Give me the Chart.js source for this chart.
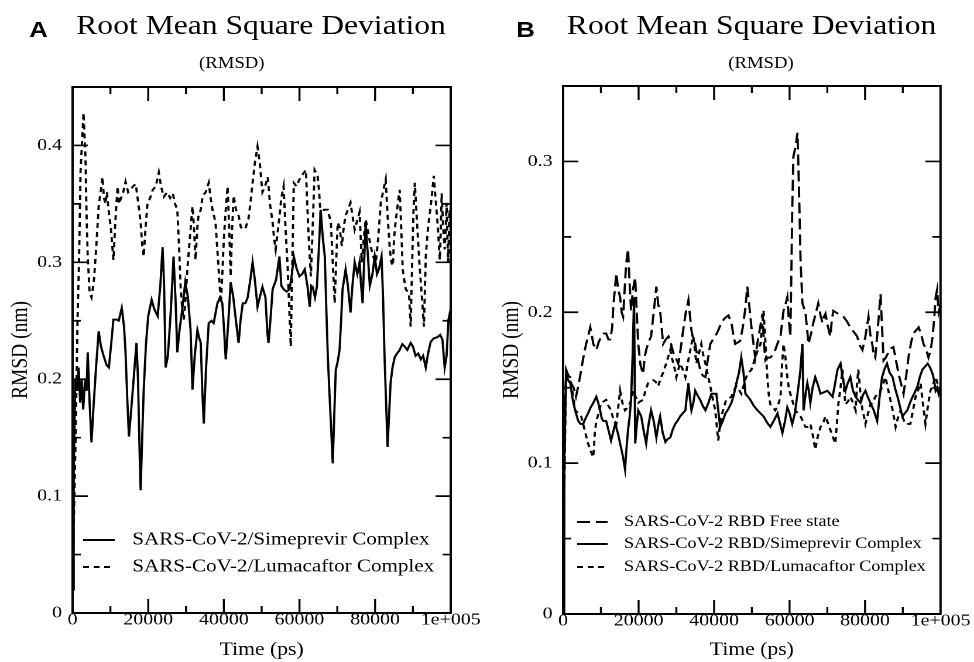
<!DOCTYPE html>
<html>
<head>
<meta charset="utf-8">
<title>RMSD</title>
<script src="https://cdn.jsdelivr.net/npm/chart.js@4.4.1/dist/chart.umd.min.js"></script>
<style>
  html, body { margin: 0; padding: 0; background: #fff; overflow: hidden; }
  /* the original figure is stretched sideways, so the page is laid out narrow and scaled */
  #page { position: absolute; left: 0; top: 0; width: 832px; height: 662px; transform: scaleX(1.1707); transform-origin: 0 0; }
  .letter { position: absolute; font: bold 22px 'Liberation Sans', Arial, sans-serif; line-height: 22px; color: #000; }
  .title, .sub { position: absolute; text-align: center; white-space: nowrap; color: #000;
    font-family: 'Liberation Serif', 'Times New Roman', serif; }
  .title { width: 400px; font-size: 27px; line-height: 27px; top: 12px; }
  .sub { width: 200px; font-size: 16px; line-height: 16px; top: 55px; }
  canvas { position: absolute; top: 0; }
</style>
</head>
<body>
<div id="page">
  <div class="letter" style="left:25px; top:19px">A</div>
  <div class="letter" style="left:441px; top:19px">B</div>
  <div class="title" style="left:23px">Root Mean Square Deviation</div>
  <div class="title" style="left:442px">Root Mean Square Deviation</div>
  <div class="sub" style="left:98px">(RMSD)</div>
  <div class="sub" style="left:550px">(RMSD)</div>
  <canvas id="chartA" width="416" height="662" style="left:0; width:416px; height:662px"></canvas>
  <canvas id="chartB" width="416" height="662" style="left:416px; width:416px; height:662px"></canvas>
</div>
<script>
// ---- axis ticks ----
const xTickValues = [0, 20000, 40000, 60000, 80000, 100000];
const xTickLabels = ['0', '20000', '40000', '60000', '80000', '1e+005'];
const xMinorTicks = [10000, 30000, 50000, 70000, 90000];

const yTickValuesA = [0, 0.1, 0.2, 0.3, 0.4];
const yTickLabelsA = ['0', '0.1', '0.2', '0.3', '0.4'];
const yMinorTicksA = [0.05, 0.15, 0.25, 0.35];

const yTickValuesB = [0, 0.1, 0.2, 0.3];
const yTickLabelsB = ['0', '0.1', '0.2', '0.3'];
const yMinorTicksB = [0.05, 0.15, 0.25];

// ---- panel A: time (ps) / RMSD (nm) ----
const seriesLabelsA = ['SARS-CoV-2/Simeprevir Complex', 'SARS-CoV-2/Lumacaftor Complex'];

const timeSimA = [
  0, 300, 700, 1200, 1600, 2000, 2400, 2800, 3300, 3700,
  4000, 4500, 5000, 5600, 6200, 6900, 7500, 8200, 9000, 9600,
  10200, 10800, 11600, 12200, 13000, 13600, 14000, 14500, 14900, 15400,
  15900, 16500, 16900, 17300, 17700, 18000, 18400, 18800, 19400, 20000,
  20900, 21600, 22500, 23200, 23800, 24200, 24600, 25200, 26000, 26700,
  27200, 27700, 28200, 29000, 29800, 30500, 31200, 31700, 32300, 33000,
  33500, 33900, 34300, 34700, 35300, 36000, 36700, 37300, 38300, 39000,
  39600, 40100, 40500, 41200, 41800, 42500, 43200, 43900, 44400, 45000,
  45700, 46300, 47000, 47600, 48200, 48900, 49500, 50200, 51000, 51500,
  51800, 52300, 52900, 53800, 54700, 55200, 55800, 56600, 57400, 58000,
  58500, 59200, 60000, 60700, 61400, 62100, 62700, 63100, 63500, 64100,
  64600, 65100, 65600, 66200, 66700, 67100, 67500, 67900, 68300, 68800,
  69200, 69600, 70100, 70600, 71000, 71400, 72200, 72800, 73500, 74000,
  74600, 75300, 75900, 76300, 76700, 77100, 77500, 78000, 78600, 79300,
  79900, 80500, 81000, 81700, 82100, 82500, 82900, 83300, 83700, 84100,
  84600, 85200, 85800, 86500, 87200, 87800, 88500, 89400, 90000, 90700,
  91400, 92100, 92700, 93400, 94000, 94700, 95500, 96500, 97200, 97800,
  98400, 98900, 99400, 100000
];
const rmsdSimA = [
  0.02, 0.12, 0.20, 0.19, 0.21, 0.18, 0.20, 0.174, 0.20, 0.19,
  0.223, 0.18, 0.146, 0.18, 0.21, 0.241, 0.228, 0.22, 0.212, 0.21,
  0.23, 0.251, 0.251, 0.25, 0.261, 0.245, 0.223, 0.18, 0.151, 0.17,
  0.19, 0.215, 0.231, 0.20, 0.14, 0.105, 0.15, 0.19, 0.23, 0.254,
  0.268, 0.26, 0.254, 0.28, 0.313, 0.28, 0.21, 0.22, 0.26, 0.305,
  0.27, 0.223, 0.24, 0.26, 0.283, 0.27, 0.242, 0.191, 0.22, 0.242,
  0.235, 0.231, 0.19, 0.162, 0.21, 0.248, 0.25, 0.248, 0.265, 0.27,
  0.265, 0.24, 0.217, 0.25, 0.283, 0.27, 0.25, 0.231, 0.25, 0.265,
  0.265, 0.27, 0.285, 0.30, 0.285, 0.262, 0.27, 0.279, 0.27, 0.24,
  0.231, 0.25, 0.277, 0.285, 0.305, 0.28, 0.277, 0.275, 0.277, 0.29,
  0.305, 0.295, 0.288, 0.29, 0.294, 0.28, 0.262, 0.28, 0.279, 0.27,
  0.279, 0.31, 0.345, 0.32, 0.305, 0.26, 0.219, 0.19, 0.163, 0.128,
  0.17, 0.208, 0.215, 0.225, 0.25, 0.277, 0.294, 0.28, 0.257, 0.28,
  0.30, 0.29, 0.30, 0.28, 0.265, 0.30, 0.334, 0.31, 0.28, 0.29,
  0.305, 0.29, 0.294, 0.305, 0.27, 0.219, 0.18, 0.142, 0.17, 0.197,
  0.21, 0.219, 0.222, 0.225, 0.23, 0.228, 0.225, 0.231, 0.228, 0.22,
  0.222, 0.217, 0.22, 0.21, 0.222, 0.232, 0.235, 0.236, 0.238, 0.234,
  0.21, 0.22, 0.251, 0.26
];

const timeLumA = [
  0, 800, 1300, 1700, 2100, 2600, 2900, 3400, 3700, 4000,
  4500, 5000, 5600, 6200, 6900, 7400, 7900, 8300, 8700, 9100,
  9500, 10100, 10800, 11400, 11900, 12300, 12700, 13400, 14000, 14700,
  15300, 16000, 16700, 17400, 18000, 18400, 18800, 19300, 19800, 20500,
  21200, 22000, 22800, 23400, 24100, 25000, 25800, 26500, 27100, 27700,
  28200, 28600, 29000, 29400, 29900, 30400, 31000, 31700, 32100, 32500,
  33000, 33300, 33900, 34400, 35200, 36000, 36500, 37000, 37800, 38500,
  39200, 39600, 40000, 40500, 41000, 41400, 41800, 42200, 42600, 43200,
  43900, 44500, 45200, 45800, 46500, 47000, 47600, 48200, 48900, 49500,
  50200, 50900, 51600, 52200, 52900, 53300, 53700, 54200, 54700, 55200,
  55800, 56300, 56900, 57300, 57700, 58100, 58500, 59200, 60000, 60800,
  61700, 62300, 63000, 63500, 64000, 64800, 65200, 65600, 66500, 67500,
  68300, 68800, 69300, 69700, 70100, 70600, 71200, 71700, 72200, 72800,
  73500, 74000, 74600, 75200, 75900, 76200, 76500, 77000, 77500, 78200,
  78800, 79500, 80200, 80800, 81500, 82200, 82800, 83300, 83900, 84300,
  84700, 85000, 85400, 86000, 86500, 86900, 87300, 87700, 88100, 88600,
  89000, 89400, 89800, 90100, 90500, 90900, 91300, 91700, 92100, 92500,
  92900, 93200, 93400, 94000, 94700, 95100, 95500, 96000, 96600, 97100,
  97400, 97600, 98000, 98400, 98700, 98900, 99300, 99700, 100000
];
const rmsdLumA = [
  0.03, 0.15, 0.25, 0.30, 0.377, 0.41, 0.428, 0.39, 0.34, 0.305,
  0.274, 0.27, 0.283, 0.31, 0.348, 0.36, 0.373, 0.355, 0.35, 0.36,
  0.345, 0.33, 0.302, 0.34, 0.365, 0.35, 0.354, 0.36, 0.369, 0.36,
  0.362, 0.365, 0.367, 0.35, 0.334, 0.315, 0.305, 0.33, 0.35, 0.355,
  0.362, 0.365, 0.377, 0.365, 0.356, 0.36, 0.355, 0.359, 0.35, 0.345,
  0.31, 0.277, 0.26, 0.251, 0.27, 0.296, 0.32, 0.348, 0.33, 0.302,
  0.33, 0.34, 0.345, 0.357, 0.36, 0.368, 0.355, 0.345, 0.334, 0.30,
  0.265, 0.29, 0.32, 0.345, 0.365, 0.33, 0.288, 0.33, 0.357, 0.345,
  0.34, 0.33, 0.328, 0.33, 0.337, 0.35, 0.368, 0.385, 0.399, 0.385,
  0.36, 0.365, 0.373, 0.35, 0.334, 0.32, 0.311, 0.325, 0.339, 0.355,
  0.365, 0.33, 0.294, 0.26, 0.228, 0.30, 0.368, 0.365, 0.371, 0.375,
  0.379, 0.33, 0.288, 0.33, 0.379, 0.374, 0.36, 0.34, 0.345, 0.345,
  0.334, 0.30, 0.265, 0.30, 0.334, 0.33, 0.314, 0.33, 0.34, 0.345,
  0.351, 0.34, 0.328, 0.335, 0.343, 0.32, 0.30, 0.32, 0.337, 0.325,
  0.314, 0.305, 0.30, 0.32, 0.351, 0.362, 0.371, 0.34, 0.311, 0.30,
  0.297, 0.32, 0.334, 0.35, 0.362, 0.33, 0.294, 0.285, 0.277, 0.275,
  0.271, 0.245, 0.30, 0.34, 0.368, 0.345, 0.322, 0.30, 0.282, 0.265,
  0.245, 0.28, 0.305, 0.33, 0.348, 0.36, 0.374, 0.354, 0.33, 0.302,
  0.33, 0.359, 0.33, 0.311, 0.33, 0.351, 0.30, 0.345, 0.33
];

// ---- panel B ----
const seriesLabelsB = ['SARS-CoV-2 RBD Free state', 'SARS-CoV-2 RBD/Simeprevir Complex', 'SARS-CoV-2 RBD/Lumacaftor Complex'];

const timeFreeB = [
  0, 300, 500, 800, 1400, 2100, 2800, 3400, 4100, 4800,
  5500, 6100, 6700, 7200, 7600, 8000, 8800, 9400, 10100, 10800,
  11400, 12000, 12500, 13000, 13300, 13700, 14100, 14600, 15100, 15500,
  15900, 16300, 16700, 17200, 17600, 18000, 18500, 19100, 19500, 19900,
  20500, 21200, 21600, 22000, 22600, 23300, 24000, 24700, 25200, 25700,
  26100, 26500, 27200, 27900, 28500, 29200, 29800, 30500, 31100, 31800,
  32500, 33200, 33600, 34000, 34500, 35000, 35600, 36300, 37000, 37700,
  38300, 39000, 39700, 40300, 41100, 41900, 42800, 43800, 44600, 45100,
  45600, 46300, 46900, 47600, 48300, 48800, 49300, 49900, 50400, 50900,
  51500, 52200, 52800, 53200, 53600, 54300, 54900, 55600, 56200, 56900,
  57600, 58000, 58400, 58900, 59400, 59800, 60200, 60500, 60700, 61000,
  61600, 62100, 62300, 62600, 62900, 63400, 63800, 64200, 64600, 65000,
  65700, 66300, 67000, 67600, 68200, 68700, 69100, 69500, 70200, 70800,
  71200, 71600, 72200, 72900, 73600, 74300, 75200, 76100, 77000, 77900,
  78600, 79300, 80100, 80900, 81400, 81900, 82300, 82700, 83400, 84100,
  84500, 84900, 85500, 86100, 86800, 87500, 88200, 88900, 89600, 90200,
  90900, 91500, 92200, 92800, 93500, 94200, 94900, 95500, 96200, 96800,
  97400, 97900, 98300, 98700, 99100, 99500, 100000
];
const rmsdFreeB = [
  0.0, 0.08, 0.13, 0.162, 0.158, 0.153, 0.15, 0.144, 0.152, 0.162,
  0.172, 0.179, 0.185, 0.19, 0.185, 0.179, 0.175, 0.18, 0.184, 0.186,
  0.186, 0.182, 0.182, 0.19, 0.204, 0.215, 0.226, 0.215, 0.21, 0.20,
  0.197, 0.215, 0.232, 0.242, 0.22, 0.201, 0.215, 0.223, 0.20, 0.179,
  0.165, 0.159, 0.17, 0.175, 0.18, 0.184, 0.20, 0.217, 0.205, 0.201,
  0.19, 0.179, 0.182, 0.184, 0.18, 0.173, 0.17, 0.166, 0.175, 0.188,
  0.20, 0.208, 0.198, 0.188, 0.182, 0.179, 0.17, 0.162, 0.158, 0.157,
  0.168, 0.179, 0.182, 0.184, 0.188, 0.193, 0.196, 0.198, 0.193, 0.185,
  0.179, 0.18, 0.181, 0.19, 0.203, 0.217, 0.205, 0.19, 0.18, 0.17,
  0.18, 0.19, 0.199, 0.18, 0.168, 0.17, 0.17, 0.172, 0.175, 0.18,
  0.184, 0.193, 0.201, 0.205, 0.21, 0.195, 0.184, 0.23, 0.268, 0.303,
  0.31, 0.319, 0.30, 0.27, 0.235, 0.206, 0.203, 0.20, 0.19, 0.179,
  0.186, 0.193, 0.20, 0.206, 0.198, 0.193, 0.197, 0.199, 0.19, 0.184,
  0.195, 0.201, 0.20, 0.199, 0.198, 0.197, 0.194, 0.19, 0.187, 0.184,
  0.178, 0.175, 0.184, 0.197, 0.185, 0.179, 0.172, 0.17, 0.19, 0.212,
  0.19, 0.168, 0.17, 0.173, 0.176, 0.177, 0.168, 0.159, 0.152, 0.146,
  0.158, 0.17, 0.18, 0.186, 0.188, 0.19, 0.185, 0.179, 0.175, 0.17,
  0.175, 0.184, 0.195, 0.21, 0.215, 0.20, 0.205
];

const timeSimB = [
  0, 300, 800, 1300, 1900, 2300, 2700, 3300, 4000, 4600,
  5300, 6000, 6600, 7300, 8000, 8800, 9300, 9800, 10200, 10600,
  11400, 12000, 12700, 13200, 13800, 14500, 15100, 15800, 16400, 16800,
  17200, 17600, 18000, 18400, 18800, 19100, 19500, 19900, 20300, 20700,
  21300, 22000, 22600, 23300, 24000, 24700, 25200, 25700, 26400, 27100,
  27700, 28400, 29000, 29700, 30300, 31000, 31700, 32400, 32800, 33200,
  33600, 34000, 34500, 35000, 35600, 36300, 37000, 37700, 38500, 39300,
  40000, 40600, 41100, 41600, 42300, 43000, 43800, 44600, 45200, 45900,
  46600, 47200, 47800, 48300, 49000, 49600, 50500, 51500, 52300, 53100,
  54000, 54900, 55800, 56800, 57500, 58100, 58800, 59400, 60000, 60700,
  61400, 62100, 62800, 63400, 63700, 64200, 64700, 65100, 65500, 66100,
  66800, 67500, 68200, 69100, 70000, 70700, 71400, 72000, 72700, 73500,
  74100, 74800, 75400, 76100, 76800, 77500, 78100, 78800, 79400, 80100,
  80700, 81400, 82300, 83200, 83800, 84500, 85100, 85800, 86500, 87300,
  87900, 88600, 89300, 89900, 90500, 91200, 91900, 92600, 93200, 93900,
  94500, 95200, 95900, 96600, 97300, 97900, 98300, 98700, 99100, 99500,
  100000
];
const rmsdSimB = [
  0.0, 0.10, 0.162, 0.155, 0.153, 0.146, 0.14, 0.134, 0.128, 0.126,
  0.126, 0.13, 0.133, 0.137, 0.14, 0.144, 0.14, 0.135, 0.13, 0.128,
  0.128, 0.122, 0.115, 0.12, 0.126, 0.12, 0.113, 0.105, 0.096, 0.11,
  0.122, 0.13, 0.142, 0.17, 0.21, 0.113, 0.125, 0.135, 0.133, 0.131,
  0.122, 0.113, 0.125, 0.135, 0.128, 0.117, 0.125, 0.131, 0.12, 0.114,
  0.116, 0.117, 0.122, 0.126, 0.128, 0.131, 0.133, 0.135, 0.145, 0.153,
  0.143, 0.135, 0.14, 0.148, 0.145, 0.142, 0.138, 0.135, 0.14, 0.146,
  0.146, 0.146, 0.135, 0.124, 0.128, 0.133, 0.136, 0.14, 0.145, 0.153,
  0.16, 0.17, 0.16, 0.146, 0.144, 0.142, 0.138, 0.135, 0.133, 0.131,
  0.127, 0.124, 0.128, 0.133, 0.126, 0.12, 0.128, 0.137, 0.133, 0.126,
  0.133, 0.146, 0.16, 0.179, 0.135, 0.145, 0.153, 0.148, 0.14, 0.15,
  0.157, 0.152, 0.146, 0.147, 0.148, 0.146, 0.144, 0.152, 0.162, 0.166,
  0.156, 0.148, 0.153, 0.157, 0.148, 0.144, 0.142, 0.14, 0.145, 0.148,
  0.144, 0.14, 0.135, 0.128, 0.143, 0.157, 0.162, 0.166, 0.16, 0.157,
  0.15, 0.144, 0.137, 0.131, 0.133, 0.135, 0.14, 0.144, 0.147, 0.151,
  0.157, 0.162, 0.164, 0.166, 0.163, 0.159, 0.155, 0.148, 0.15, 0.146,
  0.15
];

const timeLumB = [
  0, 400, 800, 1400, 1900, 2500, 3200, 4000, 4800, 5700,
  6600, 7300, 8000, 8400, 8800, 9400, 10100, 10800, 11400, 12000,
  12700, 13400, 14100, 14600, 15100, 15700, 16400, 17100, 17800, 18200,
  18600, 19200, 19900, 20500, 21200, 21800, 22500, 23200, 23900, 24500,
  25200, 25800, 26500, 26900, 27300, 27800, 28400, 28800, 29200, 29600,
  30000, 30500, 31000, 31700, 32400, 33000, 33700, 34100, 34500, 34900,
  35300, 35900, 36600, 37100, 37700, 38300, 39000, 39600, 40300, 40700,
  41100, 41500, 41900, 42500, 43200, 43900, 44600, 45200, 45900, 46500,
  47200, 47900, 48500, 49200, 49900, 50400, 50900, 51600, 52300, 52700,
  53100, 53600, 54100, 54500, 54900, 55600, 56200, 56900, 57600, 58000,
  58400, 58900, 59400, 59800, 60200, 60900, 61500, 62200, 62900, 63500,
  64200, 64800, 65500, 66200, 66800, 67500, 68200, 68800, 69500, 70100,
  70800, 71400, 72100, 72500, 72900, 73500, 74000, 74400, 74800, 75500,
  76100, 76800, 77500, 77800, 78200, 78700, 79300, 79700, 80100, 80800,
  81400, 82100, 82700, 83400, 84100, 84700, 85400, 86000, 86700, 87400,
  88100, 88700, 89400, 90000, 90700, 91300, 92000, 92700, 93400, 94000,
  94700, 95300, 96000, 96600, 97300, 98000, 98700, 99300, 100000
];
const rmsdLumB = [
  0.0, 0.10, 0.16, 0.158, 0.157, 0.147, 0.135, 0.133, 0.131, 0.122,
  0.113, 0.108, 0.104, 0.12, 0.128, 0.133, 0.14, 0.141, 0.142, 0.138,
  0.135, 0.128, 0.126, 0.137, 0.148, 0.14, 0.135, 0.137, 0.14, 0.144,
  0.148, 0.144, 0.14, 0.141, 0.142, 0.148, 0.153, 0.154, 0.155, 0.154,
  0.151, 0.156, 0.16, 0.163, 0.166, 0.17, 0.175, 0.17, 0.166, 0.162,
  0.157, 0.162, 0.166, 0.162, 0.157, 0.166, 0.175, 0.18, 0.184, 0.175,
  0.166, 0.172, 0.179, 0.172, 0.166, 0.159, 0.151, 0.143, 0.135, 0.125,
  0.115, 0.124, 0.131, 0.136, 0.142, 0.143, 0.144, 0.148, 0.151, 0.149,
  0.146, 0.152, 0.157, 0.16, 0.162, 0.166, 0.17, 0.175, 0.179, 0.19,
  0.201, 0.18, 0.157, 0.145, 0.139, 0.137, 0.135, 0.138, 0.144, 0.165,
  0.179, 0.17, 0.157, 0.15, 0.146, 0.14, 0.135, 0.133, 0.131, 0.128,
  0.124, 0.124, 0.126, 0.118, 0.109, 0.118, 0.124, 0.126, 0.131, 0.127,
  0.122, 0.118, 0.113, 0.125, 0.139, 0.15, 0.162, 0.15, 0.139, 0.141,
  0.144, 0.14, 0.135, 0.15, 0.162, 0.148, 0.135, 0.131, 0.126, 0.133,
  0.139, 0.14, 0.144, 0.146, 0.148, 0.152, 0.157, 0.15, 0.142, 0.134,
  0.124, 0.13, 0.135, 0.13, 0.126, 0.126, 0.126, 0.135, 0.144, 0.148,
  0.153, 0.14, 0.126, 0.137, 0.148, 0.152, 0.157, 0.152, 0.15
];

const SERIF = "'Liberation Serif', 'Times New Roman', serif";

// frame with inward ticks on all four sides, plus the legend inside the plot
const frameTicks = {
  id: 'frameTicks',
  afterDatasetsDraw(chart, args, opts) {
    const { ctx, chartArea: a } = chart;
    const xs = chart.scales.x, ys = chart.scales.y;
    ctx.save();
    ctx.strokeStyle = '#000';
    ctx.setLineDash([]);
    ctx.lineWidth = 1.7;
    ctx.beginPath();
    const seg = (x1, y1, x2, y2) => { ctx.moveTo(x1, y1); ctx.lineTo(x2, y2); };
    [[opts.xMajor, 14], [opts.xMinor, 7]].forEach(([vals, len]) => vals.forEach(v => {
      const p = xs.getPixelForValue(v);
      seg(p, a.bottom, p, a.bottom - len);
      seg(p, a.top, p, a.top + len);
    }));
    [[opts.yMajor, 13], [opts.yMinor, 7]].forEach(([vals, len]) => vals.forEach(v => {
      const p = ys.getPixelForValue(v);
      seg(a.left, p, a.left + len, p);
      seg(a.right, p, a.right - len, p);
    }));
    ctx.stroke();
    ctx.lineWidth = 2;
    ctx.strokeRect(a.left, a.top, a.right - a.left, a.bottom - a.top);

    // legend
    const lg = opts.legend;
    ctx.font = lg.size + 'px ' + SERIF;
    ctx.fillStyle = '#000';
    ctx.textBaseline = 'middle';
    ctx.textAlign = 'left';
    chart.data.datasets.forEach((ds, i) => {
      const yy = lg.rows[i];
      ctx.setLineDash(ds.borderDash || []);
      ctx.lineWidth = ds.borderWidth;
      ctx.beginPath();
      ctx.moveTo(lg.x1, yy);
      ctx.lineTo(lg.x2, yy);
      ctx.stroke();
      ctx.fillText(ds.label, lg.tx, yy);
    });
    ctx.restore();
  }
};

function makeChart(id, cfg) {
  const datasets = cfg.series.map(s => ({
    label: s.label,
    data: s.t.map((t, i) => ({ x: t, y: s.v[i] })),
    borderColor: '#000',
    borderWidth: 1.9,
    borderDash: s.dash,
    pointRadius: 0,
    tension: 0,
    fill: false
  }));

  return new Chart(document.getElementById(id), {
    type: 'line',
    data: { datasets },
    plugins: [frameTicks],
    options: {
      responsive: false,
      animation: false,
      devicePixelRatio: 2,
      layout: { padding: cfg.pad },
      plugins: {
        legend: { display: false },
        tooltip: { enabled: false },
        frameTicks: {
          xMajor: xTickValues.filter(v => v > 0 && v < 100000),
          xMinor: xMinorTicks,
          yMajor: cfg.yTicks.filter(v => v > 0),
          yMinor: cfg.yMinor,
          legend: cfg.legend
        }
      },
      scales: {
        x: {
          type: 'linear',
          min: 0,
          max: 100000,
          grid: { display: false, drawTicks: false },
          border: { display: false },
          afterBuildTicks: s => { s.ticks = xTickValues.map(v => ({ value: v })); },
          afterFit: s => { s.height = cfg.xAxisHeight; },
          ticks: {
            color: '#000', font: { family: SERIF, size: 17 }, padding: -3,
            maxRotation: 0, autoSkip: false,
            callback: (v, i) => xTickLabels[i]
          },
          title: {
            display: true, text: 'Time (ps)', color: '#000',
            font: { family: SERIF, size: 18.5 }, padding: { top: 0, bottom: 1 }
          }
        },
        y: {
          type: 'linear',
          min: 0,
          max: cfg.yMax,
          grid: { display: false, drawTicks: false },
          border: { display: false },
          afterBuildTicks: s => { s.ticks = cfg.yTicks.map(v => ({ value: v })); },
          afterFit: s => { s.width = cfg.yAxisWidth; },
          ticks: {
            color: '#000', font: { family: SERIF, size: 17 }, padding: 9,
            callback: (v, i) => cfg.yLabels[i]
          },
          title: {
            display: true, text: 'RMSD (nm)', color: '#000',
            font: { family: SERIF, size: 19.5 }, padding: { top: cfg.yTitlePad, bottom: 0 }
          }
        }
      }
    }
  });
}

makeChart('chartA', {
  series: [
    { label: seriesLabelsA[0], t: timeSimA, v: rmsdSimA, dash: [] },
    { label: seriesLabelsA[1], t: timeLumA, v: rmsdLumA, dash: [5, 4] }
  ],
  yMax: 0.45,
  yTicks: yTickValuesA,
  yLabels: yTickLabelsA,
  yMinor: yMinorTicksA,
  pad: { left: 0, right: 31, top: 87, bottom: 0 },
  yAxisWidth: 62,
  xAxisHeight: 49,
  yTitlePad: 6,
  legend: { size: 18, rows: [540, 567], x1: 71, x2: 98, tx: 113 }
});

makeChart('chartB', {
  series: [
    { label: seriesLabelsB[0], t: timeFreeB, v: rmsdFreeB, dash: [11, 5] },
    { label: seriesLabelsB[1], t: timeSimB, v: rmsdSimB, dash: [] },
    { label: seriesLabelsB[2], t: timeLumB, v: rmsdLumB, dash: [5, 4] }
  ],
  yMax: 0.35,
  yTicks: yTickValuesB,
  yLabels: yTickLabelsB,
  yMinor: yMinorTicksB,
  pad: { left: 0, right: 28.6, top: 86, bottom: 0 },
  yAxisWidth: 65,
  xAxisHeight: 48,
  yTitlePad: 9.5,
  legend: { size: 15.5, rows: [522, 544, 567], x1: 77, x2: 103, tx: 117 }
});
</script>
</body>
</html>
